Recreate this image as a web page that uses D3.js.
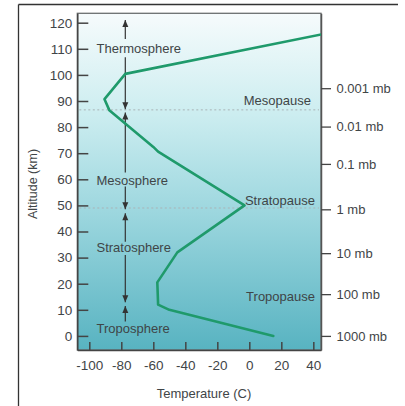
<!DOCTYPE html>
<html><head><meta charset="utf-8">
<script src="https://cdn.jsdelivr.net/npm/d3@7"></script>
<style>body{margin:0;background:#fff;}svg{display:block;font-family:"Liberation Sans",Arial,sans-serif;}</style>
</head><body>
<script>
// Data
const temps = [15, -50, -57, -57.5, -45, -3, -57, -60, -87.5, -90.5, -77.5, 45];
const alts  = [0, 10, 12, 20.5, 32, 50, 70.6, 72.4, 86.5, 90.7, 100.4, 115.5];
const altTicks = [0, 10, 20, 30, 40, 50, 60, 70, 80, 90, 100, 110, 120];
const tempTicks = [-100, -80, -60, -40, -20, 0, 20, 40];
const pressureAlts = [0, 16, 31.7, 48.5, 65.9, 80.2, 94.9];
const pressureLabels = ["1000 mb", "100 mb", "10 mb", "1 mb", "0.1 mb", "0.01 mb", "0.001 mb"];
const layerNames = ["Thermosphere", "Mesosphere", "Stratosphere", "Troposphere"];
const layerLabelAlts = [110, 59.4, 33.8, 3];
const pauseNames = ["Mesopause", "Stratopause", "Tropopause"];
const pauseLabelAlts = [90.4, 52, 15];
const dottedAlts = [86.6, 49];

const W = 405, H = 406;
const svg = d3.select("body").append("svg").attr("width", W).attr("height", H);

// frame
svg.append("line").attr("x1",18.5).attr("x2",398).attr("y1",4.5).attr("y2",4.5).attr("stroke","#333").attr("stroke-width",1.3);
svg.append("line").attr("x1",18.5).attr("x2",18.5).attr("y1",4.5).attr("y2",406).attr("stroke","#333").attr("stroke-width",1.3);

const x = d3.scaleLinear([-107.5, 44.8], [77.3, 321]);
const y = d3.scaleLinear([-5.4, 123.6], [350, 13.3]);
const L = x.range()[0], R = x.range()[1], T = y.range()[1], B = y.range()[0];

const defs = svg.append("defs");
const grad = defs.append("linearGradient").attr("id","bg").attr("x1",0).attr("x2",0).attr("y1",0).attr("y2",1);
grad.append("stop").attr("offset","0%").attr("stop-color","#f6fbfc");
grad.append("stop").attr("offset","30%").attr("stop-color","#ccedf0");
grad.append("stop").attr("offset","60%").attr("stop-color","#9bd6de");
grad.append("stop").attr("offset","100%").attr("stop-color","#58b3c1");
defs.append("clipPath").attr("id","clip").append("rect").attr("x",L).attr("y",T).attr("width",R-L).attr("height",B-T);

svg.append("rect").attr("x",L).attr("y",T).attr("width",R-L).attr("height",B-T).attr("fill","url(#bg)");

// dotted lines
svg.selectAll(".dot").data(dottedAlts).join("line")
  .attr("x1",L+2).attr("x2",R-2).attr("y1",d=>y(d)).attr("y2",d=>y(d))
  .attr("stroke","#a9b3b6").attr("stroke-width",1).attr("stroke-dasharray","2,2.5");

// border
svg.append("rect").attr("x",L).attr("y",T).attr("width",R-L).attr("height",B-T)
  .attr("fill","none").attr("stroke","#6b6f70").attr("stroke-width",1.3);

const textColor = "#3f4547";
const fs = "13px";
const hyph = d => String(d).replace("\u2212","-");

// left axis
const gl = svg.append("g").attr("transform",`translate(${L},0)`)
  .call(d3.axisLeft(y).tickValues(altTicks).tickFormat(d=>String(d)).tickSizeInner(-11).tickSizeOuter(0).tickPadding(5));
gl.select(".domain").attr("stroke","#444").attr("stroke-width",1.5);
gl.selectAll(".tick line").attr("stroke","#444").attr("stroke-width",1.5);
gl.selectAll("text").attr("fill",textColor).style("font-size","13.5px").style("font-family","Liberation Sans, Arial");

// bottom axis
const gb = svg.append("g").attr("transform",`translate(0,${B})`)
  .call(d3.axisBottom(x).tickValues(tempTicks).tickFormat(d=>String(d)).tickSizeInner(-8).tickSizeOuter(0).tickPadding(10));
gb.select(".domain").attr("stroke","#444").attr("stroke-width",1.5);
gb.selectAll(".tick line").attr("stroke","#444").attr("stroke-width",1.5);
gb.selectAll("text").attr("fill",textColor).style("font-size","13.5px").style("font-family","Liberation Sans, Arial");

// right axis
const gr = svg.append("g").attr("transform",`translate(${R},0)`)
  .call(d3.axisRight(y).tickValues(pressureAlts).tickFormat((d,i)=>pressureLabels[i]).tickSizeInner(10).tickSizeOuter(0).tickPadding(5.5));
gr.select(".domain").attr("stroke","#555").attr("stroke-width",1.5);
gr.selectAll(".tick line").attr("stroke","#444").attr("stroke-width",1.3);
gr.selectAll("text").attr("fill",textColor).style("font-size",fs).style("font-family","Liberation Sans, Arial");

// arrows
const ax = x(-77.5);
const segs = [[121, 113.8], [106.8, 86.8], [85.6, 62.6], [57.2, 48.5], [47, 36.1], [31, 12.9], [11.5, 5.5]];
const g = svg.append("g").attr("stroke","#333").attr("fill","#333");
segs.forEach(s => {
  g.append("line").attr("x1",ax).attr("x2",ax).attr("y1",y(s[0])).attr("y2",y(s[1])).attr("stroke-width",1.2);
});
const upTips = [121, 85.6, 47, 11.5];
const downTips = [86.8, 48.5, 12.9];
upTips.forEach(t => { const yy = y(t); g.append("path").attr("stroke","none").attr("d",`M${ax},${yy} L${ax-3},${yy+7} L${ax+3},${yy+7} Z`); });
downTips.forEach(t => { const yy = y(t); g.append("path").attr("stroke","none").attr("d",`M${ax},${yy} L${ax-3},${yy-7} L${ax+3},${yy-7} Z`); });

// layer labels
svg.selectAll(".layer").data(layerNames).join("text")
  .attr("x", x(-95.5)).attr("y",(d,i)=>y(layerLabelAlts[i])).attr("dy","0.35em")
  .attr("fill",textColor).style("font-size",fs).text(d=>d);
svg.selectAll(".pause").data(pauseNames).join("text")
  .attr("x",(d,i)=> i===0 ? R-10 : R-6).attr("y",(d,i)=>y(pauseLabelAlts[i])).attr("dy","0.35em").attr("text-anchor","end")
  .attr("fill",textColor).style("font-size",fs).text(d=>d);

// temperature profile
const pts = temps.map((t,i)=>[t, alts[i]]);
svg.append("path").datum(pts).attr("clip-path","url(#clip)")
  .attr("fill","none").attr("stroke","#1f9a6b").attr("stroke-width",2.6).attr("stroke-linejoin","round").attr("stroke-linecap","round")
  .attr("d", d3.line().x(d=>x(d[0])).y(d=>y(d[1])));

// axis titles
svg.append("text").attr("x",204).attr("y",393).attr("dy","0.35em").attr("text-anchor","middle")
  .attr("fill",textColor).style("font-size","13px").text("Temperature (C)");
svg.append("text").attr("transform","translate(33,184) rotate(-90)").attr("dy","0.35em").attr("text-anchor","middle")
  .attr("fill",textColor).style("font-size","12.5px").text("Altitude (km)");
</script>
</body></html>
